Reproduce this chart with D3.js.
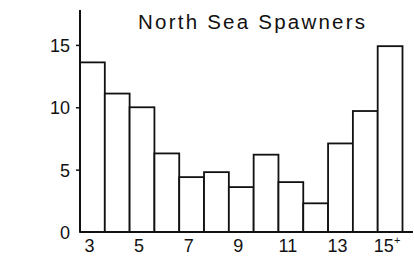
<!DOCTYPE html>
<html><head><meta charset="utf-8">
<script src="https://cdn.jsdelivr.net/npm/d3@7"></script>
<style>
html,body{margin:0;padding:0;background:#fff;}
svg{display:block;}
text{font-family:"Liberation Sans",Arial,sans-serif;fill:#111;}
</style></head>
<body>
<svg id="c" width="414" height="257"></svg>
<script>
const title = "North Sea Spawners";
const ages = ["3","4","5","6","7","8","9","10","11","12","13","14","15+"];
const values = [13.6, 11.1, 10.0, 6.3, 4.4, 4.8, 3.6, 6.2, 4.0, 2.3, 7.1, 9.7, 14.9];
const xTickLabels = ["3","5","7","9","11","13","15+"];
const yTicks = [0, 5, 10, 15];

const svg = d3.select("#c");
const x0 = 80, x1 = 402.5, yBase = 232, yTop = 10;
const x = d3.scaleBand().domain(ages).range([x0, x1]).padding(0);
const y = d3.scaleLinear().domain([0, 17.8]).range([yBase, yTop]);

// bars
svg.append("g").selectAll("rect").data(values).join("rect")
  .attr("x", (d,i) => x(ages[i]))
  .attr("y", d => y(d))
  .attr("width", x.bandwidth())
  .attr("height", d => y(0) - y(d))
  .attr("fill", "#fff").attr("stroke", "#111").attr("stroke-width", 1.8);

// y axis
const yAxis = d3.axisLeft(y).tickValues(yTicks).tickSize(4).tickPadding(6).tickFormat(d3.format("d"));
const gy = svg.append("g").attr("transform", `translate(${x0},0)`).call(yAxis);
gy.select(".domain").remove();
gy.selectAll(".tick line").attr("stroke", "#111").attr("stroke-width", 1.5);
gy.selectAll(".tick").filter(d => d === 0).select("line").remove();
gy.selectAll(".tick text").attr("font-size", 18).attr("font-family", "Liberation Sans, Arial, sans-serif").attr("fill", "#111").attr("dy", "0.36em");
svg.append("line").attr("x1", x0).attr("x2", x0).attr("y1", yTop).attr("y2", yBase)
  .attr("stroke", "#111").attr("stroke-width", 2);

// x axis baseline
svg.append("line").attr("x1", x0).attr("x2", 413).attr("y1", yBase).attr("y2", yBase)
  .attr("stroke", "#111").attr("stroke-width", 2);

// x labels
const xl = svg.append("g");
xTickLabels.forEach(lbl => {
  const cx = x(lbl) + x.bandwidth()/2 - 3;
  const t = xl.append("text").attr("x", cx).attr("y", 252).attr("text-anchor", "middle")
    .attr("font-size", 18);
  if (lbl.endsWith("+")) {
    t.append("tspan").text(lbl.slice(0, -1));
    t.append("tspan").attr("dy", -8).attr("font-size", 11).text("+");
  } else {
    t.text(lbl);
  }
});

// title
svg.append("text").attr("x", 138).attr("y", 29).attr("font-size", 20.5)
  .attr("textLength", 227).attr("lengthAdjust", "spacing")
  .attr("font-family", "Lato, 'Liberation Sans', sans-serif")
  .text(title);
</script>
</body></html>
